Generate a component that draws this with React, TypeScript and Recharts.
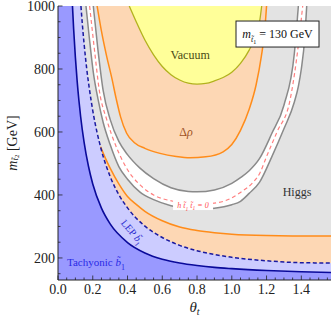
import React from "react";
import { ComposedChart, Area, Line, XAxis, YAxis, CartesianGrid, ReferenceDot } from "recharts";

// ---------- tick values ----------
const xMajorTicks = [0, 0.2, 0.4, 0.6, 0.8, 1.0, 1.2, 1.4];
const xMinorTicks = [0.05, 0.1, 0.15, 0.25, 0.3, 0.35, 0.45, 0.5, 0.55, 0.65, 0.7, 0.75, 0.85, 0.9, 0.95, 1.05, 1.1, 1.15, 1.25, 1.3, 1.35, 1.45, 1.5, 1.55];
const yMajorTicks = [200, 400, 600, 800, 1000];
const yMinorTicks = [150, 250, 300, 350, 450, 500, 550, 650, 700, 750, 850, 900, 950];

// ---------- Higgs-allowed band (white strip between two grey curves) ----------
const bandTheta = [0.161, 0.18, 0.203, 0.23, 0.26, 0.30, 0.35, 0.40, 0.47, 0.55, 0.65, 0.75, 0.80, 0.90, 1.00, 1.05, 1.10, 1.16, 1.23, 1.30, 1.36, 1.383, 1.40, 1.42, 1.431];
const bandOuter = [1000, 900, 790, 705, 630, 560, 490, 450, 410, 385, 366, 357, 355, 358, 369, 380, 405, 441, 521, 610, 695, 745, 800, 900, 1000];
const bandInner = [1000, 1000, 1000, 860, 731, 640, 570, 528, 486, 452, 423, 411, 410, 416, 437, 455, 477, 516, 595, 685, 850, 1000, 1000, 1000, 1000];

// ---------- pink dashed line (h t1 t1 = 0) ----------
const pinkTheta = [0.182, 0.21, 0.238, 0.28, 0.33, 0.40, 0.472, 0.55, 0.662, 0.80, 0.90, 0.99, 1.05, 1.122, 1.162, 1.197, 1.26, 1.335, 1.37, 1.408];
const pinkM = [1000, 860, 731, 640, 560, 480, 432, 400, 380, 371, 374, 388, 408, 440, 470, 518, 600, 701, 820, 1000];

// ---------- Delta rho, upper (U-shaped) region ----------
const rhoUTheta = [0.225, 0.25, 0.28, 0.31, 0.335, 0.36, 0.395, 0.44, 0.5, 0.587, 0.68, 0.76, 0.85, 0.95, 1.0, 1.05, 1.1, 1.14, 1.17, 1.19, 1.2];
const rhoUM = [1000, 920, 840, 770, 705, 648, 596, 566, 548, 532, 522, 518, 521, 537, 560, 605, 672, 750, 840, 925, 1000];

// ---------- Vacuum stability region ----------
const vacTheta = [0.41, 0.45, 0.5, 0.55, 0.6, 0.65, 0.7, 0.75, 0.8, 0.85, 0.9, 0.95, 1.0, 1.05, 1.1, 1.14, 1.16, 1.172];
const vacM = [1000, 950, 892, 845, 808, 782, 765, 755, 752, 754, 762, 773, 790, 818, 860, 910, 950, 1000];

// ---------- Delta rho, lower strip ----------
const rhoLTheta = [0.245, 0.27, 0.3, 0.35, 0.4, 0.45, 0.5, 0.6, 0.7, 0.8, 0.9, 1.0, 1.2, 1.4, 1.571];
const rhoLM = [553, 520, 485, 435, 395, 370, 348, 318, 298, 287, 280, 275, 271, 270, 270];

// ---------- LEP sbottom bound (dashed navy) ----------
const lepTheta = [0, 0.132, 0.14, 0.15, 0.165, 0.18, 0.2, 0.25, 0.3, 0.35, 0.4, 0.5, 0.6, 0.7, 0.8, 0.9, 1.0, 1.2, 1.4, 1.571];
const lepM = [1000, 1000, 943, 881, 802, 739, 668, 542, 459, 401, 359, 301, 265, 240, 223, 211, 202, 191, 185, 184];

// ---------- Tachyonic sbottom (solid navy) ----------
const tachTheta = [0, 0.0833, 0.09, 0.1, 0.11, 0.12, 0.13, 0.15, 0.175, 0.2, 0.25, 0.3, 0.4, 0.5, 0.6, 0.7, 0.8, 0.9, 1.0, 1.2, 1.4, 1.571];
const tachM = [1000, 1000, 927, 837, 763, 702, 650, 568, 492, 435, 358, 308, 249, 216, 196, 184, 176, 170, 166, 160, 156, 154];

const M_MIN = 130;
const M_MAX = 1000;
const THETA_MAX = 1.5708;

// ---------- build one table for the chart ----------
type Row = { theta: number; [k: string]: any };
const rowMap = new Map<number, Row>();
const put = (thetas: number[], key: string, vals: any[]) =>
  thetas.forEach((t, i) => {
    const r = rowMap.get(t) ?? { theta: t };
    r[key] = vals[i];
    rowMap.set(t, r);
  });

put(bandTheta, "band", bandOuter.map((v, i) => [v, bandInner[i]]));
put(bandTheta, "outer", bandOuter);
put(
  bandTheta,
  "inner",
  bandInner.map((v, i) =>
    v < M_MAX || (bandInner[i - 1] ?? M_MAX) < M_MAX || (bandInner[i + 1] ?? M_MAX) < M_MAX ? v : null
  )
);
put(pinkTheta, "pink", pinkM);
put(rhoUTheta, "rhoU", rhoUM.map((v) => [v, M_MAX]));
put(rhoUTheta, "rhoULine", rhoUM);
put(vacTheta, "vac", vacM.map((v) => [v, M_MAX]));
put(vacTheta, "vacLine", vacM);
put(rhoLTheta, "rhoL", rhoLM.map((v) => [M_MIN, v]));
put(rhoLTheta, "rhoLLine", rhoLM);
put(lepTheta, "lep", lepM.map((v) => [M_MIN, v]));
put(lepTheta, "lepLine", lepM.map((v, i) => (lepTheta[i] > 0 ? v : null)));
put(tachTheta, "tach", tachM.map((v) => [M_MIN, v]));
put(tachTheta, "tachLine", tachM.map((v, i) => (tachTheta[i] > 0 ? v : null)));

const data = Array.from(rowMap.values()).sort((a, b) => a.theta - b.theta);

const xTicks = [...xMajorTicks, ...xMinorTicks].sort((a, b) => a - b);
const yTicks = [...yMinorTicks, ...yMajorTicks].sort((a, b) => a - b);
const isMajor = (arr: number[], v: number) => arr.some((t) => Math.abs(t - v) < 1e-9);

const FONT = '"Liberation Serif", "DejaVu Serif", "Times New Roman", serif';
const FRAME = "#222";
const MAJ = 4.5;
const MIN = 2.5;

const BottomTick = (p: any) => {
  const major = isMajor(xMajorTicks, p.payload.value);
  return (
    <g>
      <line x1={p.x} x2={p.x} y1={p.y} y2={p.y - (major ? MAJ : MIN)} stroke={FRAME} strokeWidth={0.8} />
      {major && (
        <text x={p.x} y={p.y + 14} textAnchor="middle" fontFamily={FONT} fontSize={14} fill="#222">
          {Number(p.payload.value).toFixed(1)}
        </text>
      )}
    </g>
  );
};
const TopTick = (p: any) => {
  const major = isMajor(xMajorTicks, p.payload.value);
  return <line x1={p.x} x2={p.x} y1={p.y} y2={p.y + (major ? MAJ : MIN)} stroke={FRAME} strokeWidth={0.8} />;
};
const LeftTick = (p: any) => {
  const major = isMajor(yMajorTicks, p.payload.value);
  return (
    <g>
      <line x1={p.x} x2={p.x + (major ? MAJ : MIN)} y1={p.y} y2={p.y} stroke={FRAME} strokeWidth={0.8} />
      {major && (
        <text x={p.x - 3} y={p.y + 4.6} textAnchor="end" fontFamily={FONT} fontSize={14} fill="#222">
          {p.payload.value}
        </text>
      )}
    </g>
  );
};
const RightTick = (p: any) => {
  const major = isMajor(yMajorTicks, p.payload.value);
  return <line x1={p.x} x2={p.x - (major ? MAJ : MIN)} y1={p.y} y2={p.y} stroke={FRAME} strokeWidth={0.8} />;
};

const Sub = ({ children, size }: { children: any; size: number }) => (
  <tspan fontSize={size} dy={size * 0.45}>
    {children}
  </tspan>
);

const Note = ({ x, y, render }: { x: number; y: number; render: (cx: number, cy: number) => any }) => (
  <ReferenceDot
    xAxisId="b"
    yAxisId="l"
    x={x}
    y={y}
    r={0}
    fill="none"
    stroke="none"
    label={{ content: (p: any) => render(p.viewBox.x + (p.viewBox.width || 0) / 2, p.viewBox.y + (p.viewBox.height || 0) / 2) }}
  />
);

export default function App() {
  return (
    <div style={{ position: "absolute", left: 0, top: 0, width: 332, height: 319, background: "#fff" }}>
      <ComposedChart width={332} height={319} data={data} margin={{ top: 6, right: 1, bottom: 0, left: 0 }}>
        <CartesianGrid xAxisId="b" yAxisId="l" horizontal={false} vertical={false} fill="#e3e3e3" stroke="none" />

        <Area xAxisId="b" yAxisId="l" dataKey="band" type="monotone" fill="#ffffff" fillOpacity={1} stroke="none" connectNulls isAnimationActive={false} activeDot={false} />
        <Line xAxisId="b" yAxisId="l" dataKey="outer" type="monotone" stroke="#8a8a8a" strokeWidth={1.5} dot={false} connectNulls isAnimationActive={false} activeDot={false} />
        <Line xAxisId="b" yAxisId="l" dataKey="inner" type="monotone" stroke="#8a8a8a" strokeWidth={1.5} dot={false} connectNulls isAnimationActive={false} activeDot={false} />
        <Line xAxisId="b" yAxisId="l" dataKey="pink" type="monotone" stroke="#ff7f7f" strokeWidth={1.2} strokeDasharray="4 3" dot={false} connectNulls isAnimationActive={false} activeDot={false} />

        <Area xAxisId="b" yAxisId="l" dataKey="rhoU" type="monotone" fill="#fdd7b4" fillOpacity={1} stroke="none" connectNulls isAnimationActive={false} activeDot={false} />
        <Line xAxisId="b" yAxisId="l" dataKey="rhoULine" type="monotone" stroke="#ff8c1a" strokeWidth={1.5} dot={false} connectNulls isAnimationActive={false} activeDot={false} />
        <Area xAxisId="b" yAxisId="l" dataKey="vac" type="monotone" fill="#ffff99" fillOpacity={1} stroke="none" connectNulls isAnimationActive={false} activeDot={false} />
        <Line xAxisId="b" yAxisId="l" dataKey="vacLine" type="monotone" stroke="#b2b21e" strokeWidth={1.3} dot={false} connectNulls isAnimationActive={false} activeDot={false} />

        <Area xAxisId="b" yAxisId="l" dataKey="rhoL" type="monotone" fill="#fdd7b4" fillOpacity={1} stroke="none" connectNulls isAnimationActive={false} activeDot={false} />
        <Line xAxisId="b" yAxisId="l" dataKey="rhoLLine" type="monotone" stroke="#ff8c1a" strokeWidth={1.5} dot={false} connectNulls isAnimationActive={false} activeDot={false} />

        <Area xAxisId="b" yAxisId="l" dataKey="lep" type="monotone" fill="#ccccff" fillOpacity={1} stroke="none" connectNulls isAnimationActive={false} activeDot={false} />
        <Area xAxisId="b" yAxisId="l" dataKey="tach" type="monotone" fill="#9999ff" fillOpacity={1} stroke="none" connectNulls isAnimationActive={false} activeDot={false} />
        <Line xAxisId="b" yAxisId="l" dataKey="lepLine" type="monotone" stroke="#1a1aa0" strokeWidth={1.5} strokeDasharray="4 2.5" dot={false} connectNulls isAnimationActive={false} activeDot={false} />
        <Line xAxisId="b" yAxisId="l" dataKey="tachLine" type="monotone" stroke="#0a0a9a" strokeWidth={1.6} dot={false} connectNulls isAnimationActive={false} activeDot={false} />

        <Note x={0.777} y={368} render={(cx, cy) => (
          <g>
            <rect x={cx - 20} y={cy - 5} width={40} height={10} fill="#fff" />
            <text x={cx} y={cy + 3} textAnchor="middle" fontFamily={FONT} fontStyle="italic" fontSize={8} fill="#ff5050">
              h t&#771;<Sub size={5.5}>1</Sub><tspan dy={-2.5}> t&#771;</tspan><Sub size={5.5}>1</Sub><tspan dy={-2.5}> = 0</tspan>
            </text>
          </g>
        )} />
        <Note x={0.76} y={844} render={(cx, cy) => (
          <text x={cx} y={cy + 4} textAnchor="middle" fontFamily={FONT} fontSize={12} fill="#4a4a14">Vacuum</text>
        )} />
        <Note x={0.737} y={600} render={(cx, cy) => (
          <text x={cx} y={cy + 4} textAnchor="middle" fontFamily={FONT} fontSize={12} fill="#a0521e">Δ<tspan fontStyle="italic">ρ</tspan></text>
        )} />
        <Note x={1.375} y={408} render={(cx, cy) => (
          <text x={cx} y={cy + 4} textAnchor="middle" fontFamily={FONT} fontSize={12} fill="#333">Higgs</text>
        )} />
        <Note x={0.052} y={187} render={(cx, cy) => (
          <text x={cx} y={cy + 4} textAnchor="start" fontFamily={FONT} fontSize={11} fill="#2a2ae6">
            Tachyonic <tspan fontStyle="italic">b&#771;</tspan><Sub size={8}>1</Sub>
          </text>
        )} />
        <Note x={0.426} y={282} render={(cx, cy) => (
          <text x={cx} y={cy + 3} textAnchor="middle" fontFamily={FONT} fontSize={10} fill="#2a2ad0" transform={`rotate(50 ${cx} ${cy})`}>
            LEP <tspan fontStyle="italic">b&#771;</tspan><Sub size={7}>1</Sub>
          </text>
        )} />
        <Note x={1.263} y={911} render={(cx, cy) => (
          <g>
            <rect x={cx - 41.5} y={cy - 13} width={83} height={26} fill="#fff" stroke="#222" strokeWidth={1} />
            <text x={cx} y={cy + 4} textAnchor="middle" fontFamily={FONT} fontSize={12} fill="#111">
              <tspan fontStyle="italic">m</tspan><tspan fontSize={8} dy={3.5} fontStyle="italic">t&#771;</tspan><tspan fontSize={6} dy={2}>1</tspan><tspan dy={-5.5}> = 130 GeV</tspan>
            </text>
          </g>
        )} />

        <XAxis
          xAxisId="b"
          dataKey="theta"
          type="number"
          orientation="bottom"
          domain={[0, THETA_MAX]}
          allowDataOverflow
          ticks={xTicks}
          interval={0}
          height={39}
          tickSize={0}
          tickMargin={0}
          tickLine={false}
          axisLine={{ stroke: FRAME, strokeWidth: 1 }}
          tick={<BottomTick />}
          label={{
            content: (p: any) => (
              <text x={p.viewBox.x + p.viewBox.width / 2} y={312} textAnchor="middle" fontFamily={FONT} fontSize={15} fill="#222">
                <tspan fontStyle="italic">θ</tspan><tspan fontSize={10} dy={2.5} fontStyle="italic">t</tspan>
              </text>
            ),
          }}
        />
        <XAxis
          xAxisId="t"
          dataKey="theta"
          type="number"
          orientation="top"
          domain={[0, THETA_MAX]}
          allowDataOverflow
          ticks={xTicks}
          interval={0}
          height={0}
          tickSize={0}
          tickMargin={0}
          tickLine={false}
          axisLine={{ stroke: FRAME, strokeWidth: 1 }}
          tick={<TopTick />}
        />
        <YAxis
          yAxisId="l"
          type="number"
          orientation="left"
          domain={[M_MIN, M_MAX]}
          allowDataOverflow
          ticks={yTicks}
          interval={0}
          width={58}
          tickSize={0}
          tickMargin={0}
          tickLine={false}
          axisLine={{ stroke: FRAME, strokeWidth: 1 }}
          tick={<LeftTick />}
          label={{
            content: (p: any) => {
              const cx = 12;
              const cy = p.viewBox.y + p.viewBox.height / 2;
              return (
                <text x={cx} y={cy} textAnchor="middle" dominantBaseline="central" fontFamily={FONT} fontSize={14} fill="#222" transform={`rotate(-90 ${cx} ${cy})`}>
                  <tspan fontStyle="italic">m</tspan><tspan fontSize={9} dy={3} fontStyle="italic">t&#771;</tspan><tspan fontSize={7} dy={2}>2</tspan><tspan dy={-5}> [GeV]</tspan>
                </text>
              );
            },
          }}
        />
        <YAxis
          yAxisId="r"
          type="number"
          orientation="right"
          domain={[M_MIN, M_MAX]}
          allowDataOverflow
          ticks={yTicks}
          interval={0}
          width={0}
          tickSize={0}
          tickMargin={0}
          tickLine={false}
          axisLine={{ stroke: FRAME, strokeWidth: 1 }}
          tick={<RightTick />}
        />
      </ComposedChart>
    </div>
  );
}
